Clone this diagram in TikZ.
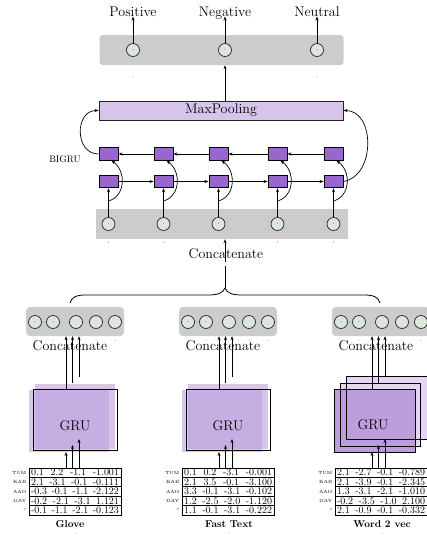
\documentclass[tikz,border=0pt]{standalone}
\usetikzlibrary{arrows.meta,calc}
\definecolor{boxgray}{RGB}{204,204,204}
\definecolor{circfill}{RGB}{220,230,220}
\definecolor{cellpurple}{RGB}{152,102,204}
\definecolor{mpfill}{RGB}{214,196,234}
\definecolor{grumid}{RGB}{188,158,220}
\definecolor{grulight}{RGB}{228,214,242}
\newcommand{\mytabrow}[7]{%
  \node[rowbox] (t#1r#2) at ({75+153*(#1-1)},{463.3+9.4*#2}) {#4\hfill #5\hfill #6\hfill #7};
  \node[rowlab] (l#1r#2) at ([xshift=-2pt]t#1r#2.west) {#3};
}
\begin{document}
\begin{tikzpicture}[x=1pt,y=-1pt,
  font=\fontsize{14}{16}\selectfont,
  arr/.style={-{Stealth[length=4pt,width=3pt]},line width=0.7pt},
  circ/.style={circle,draw=black!85,fill=circfill,minimum size=13pt,inner sep=0pt,line width=0.7pt,font=\fontsize{7}{7}\selectfont},
  cell/.style={draw,line width=0.9pt,fill=cellpurple,minimum width=19pt,minimum height=12.5pt,inner sep=0pt},
  gbox/.style={fill=boxgray,inner sep=0pt},
  tinydot/.style={circle,fill=black!55,inner sep=0pt,minimum size=1pt},
  rowbox/.style={draw,line width=1pt,fill=white,minimum height=9.4pt,text width=88pt,inner xsep=2pt,inner ysep=0pt,align=left,font=\fontsize{10}{10}\selectfont},
  rowlab/.style={anchor=east,inner sep=0pt,font=\fontsize{4.5}{5}\selectfont},
  lbl/.style={inner sep=0pt},
  bold/.style={inner sep=0pt,anchor=base,font=\fontsize{10}{12}\selectfont\bfseries},
]
\useasboundingbox (0,0) rectangle (427,536);

% ---------- output layer ----------
\node[gbox,rounded corners=3pt,minimum width=244pt,minimum height=30pt] (outbox) at (221.5,50) {};
\foreach \x/\lbltext [count=\i] in {133/Positive,225/Negative,317/Neutral} {
  \node[circ] (o\i) at (\x,50) {$\cdot$};
  \node[lbl,anchor=base] (lab\i) at (\x,16.5) {\lbltext};
  \draw[arr] (o\i) -- (lab\i.base);
}
\node[tinydot] (d1) at (133,77) {};
\node[tinydot] (d2) at (317,77) {};

% ---------- max pooling ----------
\node[draw=black!85,line width=0.9pt,fill=mpfill,minimum width=244pt,minimum height=19pt,inner sep=0pt] (mp) at (221,110.5) {MaxPooling};
\draw[arr] (mp.north -| o2) -- (outbox.south -| o2);

% ---------- BiGRU ----------
\node[gbox,minimum width=252pt,minimum height=30pt] (midbox) at (222,224) {};
\foreach \x [count=\i] in {108.5,163.5,218.5,277.5,333.5} {
  \node[cell] (t\i) at (\x,154) {};
  \node[cell] (b\i) at (\x,181.5) {};
  \node[circ] (m\i) at (\x,224) {$\cdot$};
  \coordinate (j\i) at (\x,201);
  \draw[arr] (m\i) -- (b\i);
  \draw[arr] (j\i) .. controls +(17.5,-5) and +(14.5,10) .. ([xshift=3pt]t\i.south);
}
\foreach \i/\j in {1/2,2/3,3/4,4/5} {
  \draw[arr] (b\i) -- (b\j);
  \draw[arr] (t\j) -- (t\i);
}
\draw[arr] (t1.west) .. controls +(-24,0) and +(-24,0) .. (mp.west);
\draw[arr] (b5.east) .. controls +(32,-5) and +(32,0) .. (mp.east);
\node[font=\fontsize{9.5}{10}\selectfont] (bigru) at (65,159) {BIGRU};

\foreach \x [count=\i] in {108.5,163.5,277.5,333.5} \node[tinydot] (md\i) at (\x,242) {};
\node[lbl,anchor=base] (cc) at (226,258) {Concatenate};

% ---------- brace ----------
\coordinate (bt) at (225,288);
\draw[line width=0.8pt] (70,303) .. controls (72,297) and (76,295) .. (86,295) -- (208,295)
  .. controls (218,295) and (223,293) .. (bt) .. controls (227,293) and (232,295) .. (242,295)
  -- (364,295) .. controls (374,295) and (378,297) .. (380,303);
\draw[arr,dash pattern=on 22pt off 4pt] (bt) -- (midbox.south -| bt);

% ---------- GRU blocks (cols 1, 2) ----------
\foreach \k in {1,2} {
  \pgfmathsetmacro{\dx}{153*(\k-1)}
  \fill[grumid,fill opacity=0.6] (35+\dx,384) rectangle (115+\dx,449);
  \fill[grumid,fill opacity=0.6] (29+\dx,390) rectangle (109+\dx,452);
  \node[draw,line width=0.9pt,minimum width=84pt,minimum height=61pt,inner sep=0pt] (g\k) at (75+\dx,419.5) {};
  \node[lbl] (gt\k) at (75+\dx,426) {GRU};
}
% ---------- GRU block (col 3, stacked) ----------
\node[fill=grulight,minimum width=80pt,minimum height=62pt,inner sep=0pt] (g3back) at (387,408) {};
\node[fill=grulight,minimum width=79pt,minimum height=62pt,inner sep=0pt] (g3mid) at (380.5,415) {};
\node[fill=grumid,minimum width=80pt,minimum height=62pt,inner sep=0pt] (g3front) at (375,421) {};
\draw[line width=0.9pt] (g3back.south west) rectangle (g3back.north east);
\draw[line width=0.9pt] (g3mid.south west) rectangle (g3mid.north east);
\draw[line width=0.9pt] (g3front.south west) rectangle (g3front.north east);
\node[lbl] (gt3) at (373,425) {GRU};

% ---------- concatenate boxes ----------
\foreach \k in {1,2,3} {
  \pgfmathsetmacro{\dx}{153*(\k-1)}
  \node[gbox,rounded corners=4pt,minimum width=98pt,minimum height=29pt] (cb\k) at (75+\dx,321.5) {};
  \node[circ] (c\k-a) at (35+\dx,322) {$\cdot$};
  \node[circ] (c\k-b) at (53+\dx,322) {$\cdot$};
  \node[circ] (c\k-c) at (76+\dx,322) {};
  \node[circ] (c\k-d) at (96+\dx,322) {};
  \node[circ] (c\k-e) at (115+\dx,322) {};
  \node[tinydot] (c\k-m) at (44+\dx,322) {};
  \foreach \p in {35,53,96,115} \node[tinydot] (cd\k-\p) at (\p+\dx,340) {};
  \node[lbl,anchor=base] (cl\k) at (70+\dx,350) {Concatenate};
  % arrows GRU -> concatenate
  \coordinate (ua\k) at (66+\dx,389);
  \coordinate (ub\k) at (72.5+\dx,383);
  \coordinate (uc\k) at (79+\dx,377);
  \draw[arr] (ua\k) -- (cb\k.south -| ua\k);
  \draw[arr] (ub\k) -- (cb\k.south -| ub\k);
  \draw[arr] (uc\k) -- (cb\k.south -| uc\k);
  % arrows embeddings -> GRU
  \coordinate (la\k) at (66+\dx,468);
  \coordinate (lb\k) at (72.5+\dx,468);
  \coordinate (lc\k) at (79+\dx,468);
  \coordinate (ea\k) at (66+\dx,452);
  \coordinate (eb\k) at (72.5+\dx,445);
  \coordinate (ec\k) at (79+\dx,439);
  \draw[arr] (la\k) -- (ea\k);
  \draw[arr] (lb\k) -- (eb\k);
  \draw[arr] (lc\k) -- (ec\k);
}

% ---------- embedding tables ----------
\mytabrow{1}{1}{TUM}{0.1}{2.2}{-1.1}{-1.001}
\mytabrow{1}{2}{KAB}{2.1}{-3.1}{-0.1}{-0.111}
\mytabrow{1}{3}{AAO}{-0.3}{-0.1}{-1.1}{-2.122}
\mytabrow{1}{4}{GAY}{-0.2}{-2.1}{-3.1}{1.121}
\mytabrow{1}{5}{?}{-0.1}{-1.1}{-2.1}{-0.123}
\mytabrow{2}{1}{TUM}{0.1}{0.2}{-3.1}{-0.001}
\mytabrow{2}{2}{KAB}{2.1}{3.5}{-0.1}{-3.100}
\mytabrow{2}{3}{AAO}{3.3}{-0.1}{-3.1}{-0.102}
\mytabrow{2}{4}{GAY}{1.2}{-2.5}{-2.0}{-1.120}
\mytabrow{2}{5}{?}{1.1}{-0.1}{-3.1}{-0.222}
\mytabrow{3}{1}{TUM}{2.1}{-2.7}{-0.1}{-0.789}
\mytabrow{3}{2}{KAB}{2.1}{-3.9}{-0.1}{-2.345}
\mytabrow{3}{3}{AAO}{1.3}{-3.1}{-2.1}{-1.010}
\mytabrow{3}{4}{GAY}{-0.2}{-3.5}{-1.0}{2.100}
\mytabrow{3}{5}{?}{2.1}{-0.9}{-0.1}{-0.332}

\node[bold] (n1) at (70,527) {Glove};
\node[bold] (n2) at (229,527) {Fast Text};
\node[bold] (n3) at (382,527) {Word 2 vec};
\node[tinydot] (nd1) at (76,533) {};
\node[tinydot] (nd2) at (229,533) {};
\node[tinydot] (nd3) at (382,533) {};
\end{tikzpicture}
\end{document}
